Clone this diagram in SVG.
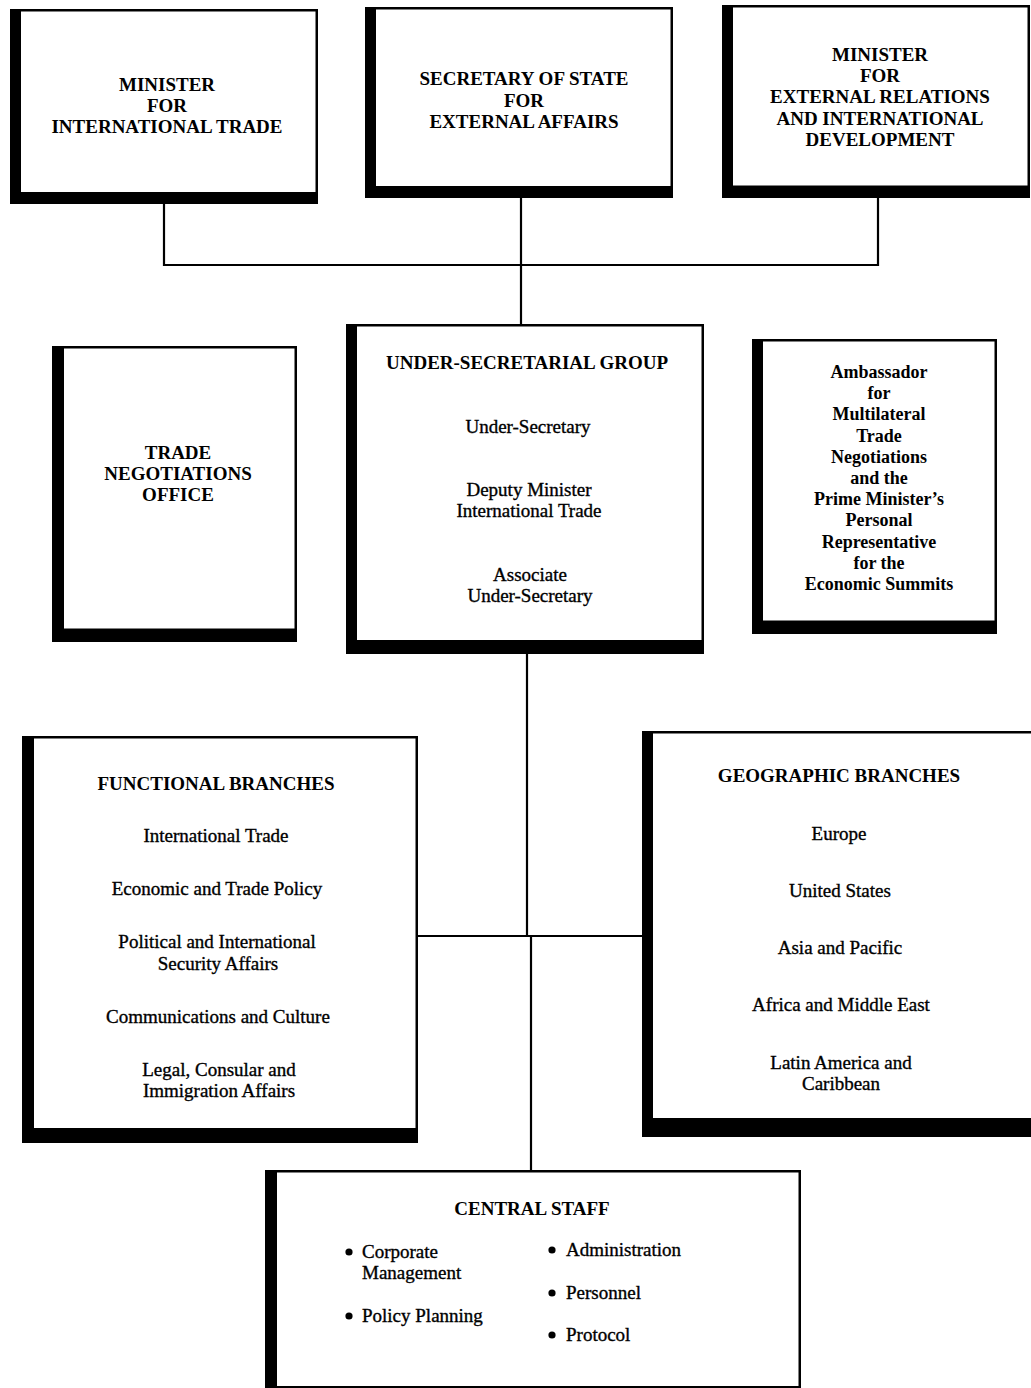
<svg xmlns="http://www.w3.org/2000/svg" width="1031" height="1388" viewBox="0 0 1031 1388">
<style>
.frame{fill:#000}
.face{fill:#fff}
.conn{stroke:#000;stroke-width:2.2;fill:none}
text{font-family:"Liberation Serif","Times New Roman",serif;font-size:19px;fill:#000;text-anchor:middle}
.h{font-weight:bold}
.i{stroke:#000;stroke-width:0.35}
.amb{font-weight:bold;font-size:18px}
.l{text-anchor:start}
</style>
<rect x="0" y="0" width="1031" height="1388" fill="#fff"/>
<g id="connectors">
<path class="conn" d="M164,204 V265 H878 V198"/>
<path class="conn" d="M521,198 V325"/>
<path class="conn" d="M527,654 V936"/>
<path class="conn" d="M418,936 H642"/>
<path class="conn" d="M531,936 V1171"/>
</g>
<g id="minister-trade">
<rect class="frame" x="10" y="9" width="308" height="195"/>
<rect class="face" x="21" y="11.5" width="294.5" height="180.5"/>
<text class="h" x="167" y="91">MINISTER</text>
<text class="h" x="167" y="112">FOR</text>
<text class="h" x="167" y="133">INTERNATIONAL TRADE</text>
</g>
<g id="secretary-state">
<rect class="frame" x="365" y="7" width="308" height="191"/>
<rect class="face" x="376" y="9.5" width="294.5" height="176.5"/>
<text class="h" x="524" y="85">SECRETARY OF STATE</text>
<text class="h" x="524" y="106.5">FOR</text>
<text class="h" x="524" y="128">EXTERNAL AFFAIRS</text>
</g>
<g id="minister-external">
<rect class="frame" x="722" y="5" width="308" height="193"/>
<rect class="face" x="733" y="7.5" width="294.5" height="178"/>
<text class="h" x="880" y="61">MINISTER</text>
<text class="h" x="880" y="82">FOR</text>
<text class="h" x="880" y="103">EXTERNAL RELATIONS</text>
<text class="h" x="880" y="124.5">AND INTERNATIONAL</text>
<text class="h" x="880" y="145.5">DEVELOPMENT</text>
</g>
<g id="trade-negotiations">
<rect class="frame" x="52" y="346" width="245" height="296"/>
<rect class="face" x="64" y="348.5" width="230.5" height="280"/>
<text class="h" x="178" y="459">TRADE</text>
<text class="h" x="178" y="480">NEGOTIATIONS</text>
<text class="h" x="178" y="501">OFFICE</text>
</g>
<g id="under-secretarial">
<rect class="frame" x="346" y="324" width="358" height="330"/>
<rect class="face" x="357" y="326.5" width="344.5" height="313.5"/>
<text class="h" x="527" y="369">UNDER-SECRETARIAL GROUP</text>
<text class="i" x="528" y="433">Under-Secretary</text>
<text class="i" x="529" y="496">Deputy Minister</text>
<text class="i" x="529" y="517">International Trade</text>
<text class="i" x="530" y="581">Associate</text>
<text class="i" x="530" y="602">Under-Secretary</text>
</g>
<g id="ambassador">
<rect class="frame" x="752" y="339" width="245" height="295"/>
<rect class="face" x="763" y="341.5" width="231.5" height="279"/>
<text class="amb" x="879" y="378">Ambassador</text>
<text class="amb" x="879" y="399">for</text>
<text class="amb" x="879" y="420">Multilateral</text>
<text class="amb" x="879" y="442">Trade</text>
<text class="amb" x="879" y="463">Negotiations</text>
<text class="amb" x="879" y="484">and the</text>
<text class="amb" x="879" y="505">Prime Minister’s</text>
<text class="amb" x="879" y="526">Personal</text>
<text class="amb" x="879" y="548">Representative</text>
<text class="amb" x="879" y="569">for the</text>
<text class="amb" x="879" y="590">Economic Summits</text>
</g>
<g id="functional-branches">
<rect class="frame" x="22" y="736" width="396" height="407"/>
<rect class="face" x="34" y="738.5" width="381.5" height="389.5"/>
<text class="h" x="216" y="790">FUNCTIONAL BRANCHES</text>
<text class="i" x="216" y="842">International Trade</text>
<text class="i" x="217" y="895">Economic and Trade Policy</text>
<text class="i" x="217" y="948">Political and International</text>
<text class="i" x="218" y="970">Security Affairs</text>
<text class="i" x="218" y="1023">Communications and Culture</text>
<text class="i" x="219" y="1076">Legal, Consular and</text>
<text class="i" x="219" y="1097">Immigration Affairs</text>
</g>
<g id="geographic-branches">
<rect class="frame" x="642" y="731" width="395" height="406"/>
<rect class="face" x="653" y="733.5" width="390" height="384.5"/>
<text class="h" x="839" y="782">GEOGRAPHIC BRANCHES</text>
<text class="i" x="839" y="840">Europe</text>
<text class="i" x="840" y="897">United States</text>
<text class="i" x="840" y="954">Asia and Pacific</text>
<text class="i" x="841" y="1011">Africa and Middle East</text>
<text class="i" x="841" y="1069">Latin America and</text>
<text class="i" x="841" y="1090">Caribbean</text>
</g>
<g id="central-staff">
<rect class="frame" x="265" y="1170" width="536" height="218"/>
<rect class="face" x="277" y="1172.5" width="521.5" height="213.5"/>
<text class="h" x="532" y="1215">CENTRAL STAFF</text>
<circle cx="349" cy="1252" r="3.6"/>
<text class="i l" x="362" y="1258">Corporate</text>
<text class="i l" x="362" y="1279">Management</text>
<circle cx="349" cy="1316" r="3.6"/>
<text class="i l" x="362" y="1322">Policy Planning</text>
<circle cx="552" cy="1250" r="3.6"/>
<text class="i l" x="566" y="1256">Administration</text>
<circle cx="552" cy="1293" r="3.6"/>
<text class="i l" x="566" y="1299">Personnel</text>
<circle cx="552" cy="1335" r="3.6"/>
<text class="i l" x="566" y="1341">Protocol</text>
</g>
</svg>
